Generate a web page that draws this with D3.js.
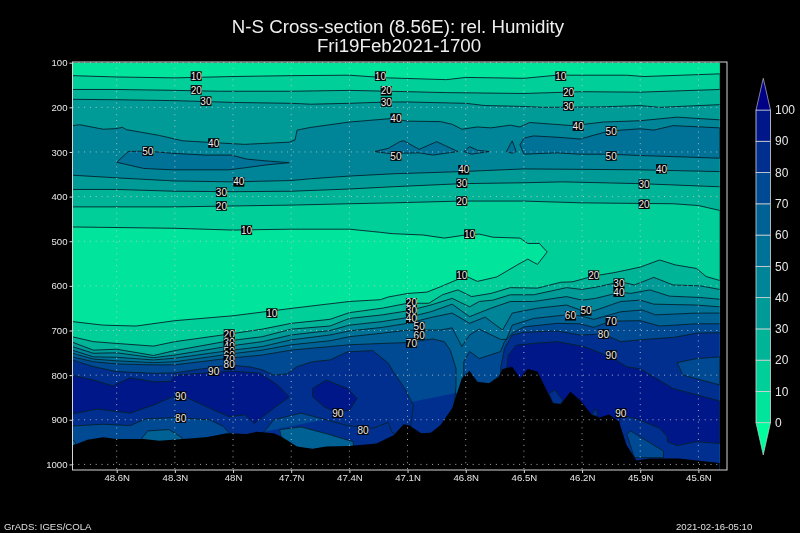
<!DOCTYPE html>
<html>
<head>
<meta charset="utf-8">
<script src="https://cdn.jsdelivr.net/npm/d3@7"></script>
<style>
  html, body { margin: 0; padding: 0; background: #000; }
  svg { display: block; opacity: 0.999; }
  text { font-family: "Liberation Sans", Arial, sans-serif; }
</style>
</head>
<body>
<svg id="chart" width="800" height="533"></svg>
<script>
const latTicks = [48.6, 48.3, 48, 47.7, 47.4, 47.1, 46.8, 46.5, 46.2, 45.9, 45.6];
const pressureTicks = [100, 200, 300, 400, 500, 600, 700, 800, 900, 1000];
const levelTicks = [0, 10, 20, 30, 40, 50, 60, 70, 80, 90, 100];
const bandColors = ["#00e69c", "#00d09a", "#00b698", "#009c98", "#008598", "#007298", "#006296", "#004a94", "#003090", "#00188a"];
const arrowColors = ["#00ff9f", "#000088"];
const leftLat = 48.83, rightLat = 45.49, topP = 100, floorP = 1013;

// contours as [lat, hPa]
const top10 = [[48.83,129],[48.6,132],[48.3,134],[48,131],[47.7,129],[47.4,128],[47.2,134],[46.9,138],[46.8,133],[46.5,135],[46.33,128],[45.97,128],[45.88,131],[45.49,125]];
const top20 = [[48.83,160],[48.6,160],[48.3,162],[48.07,164],[47.7,164],[47.4,162],[47.1,165],[46.9,167],[46.5,169],[46.2,165],[45.9,166],[45.49,160]];
const top30 = [[48.83,182],[48.6,183],[48.3,185],[48,189],[47.7,191],[47.6,193],[47.4,191],[47.2,188],[47.1,188],[46.8,191],[46.7,196],[46.5,198],[46.4,200],[46.1,199],[45.9,196],[45.8,200],[45.49,194]];
const top40 = [[48.83,241],[48.79,239],[48.67,249],[48.61,248],[48.57,245],[48.55,250],[48.38,263],[48.26,275],[48.1,279],[47.94,283],[47.71,278],[47.68,273],[47.67,251],[47.6,245],[47.4,233],[47.18,225],[47.1,231],[46.93,232],[46.87,238],[46.82,249],[46.74,244],[46.67,246],[46.57,240],[46.52,244],[46.47,234],[46.25,241],[46.09,233],[45.9,230],[45.71,222],[45.49,228]];
const mid40 = [[48.83,352],[48.6,358],[48.3,365],[48,367],[47.7,364],[47.6,360],[47.4,354],[47.18,349],[46.82,344],[46.5,338],[46.2,339],[45.9,340],[45.49,344]];
const mid30 = [[48.83,384],[48.6,384],[48.3,388],[48,389],[47.7,388],[47.4,383],[47.18,378],[46.82,371],[46.5,369],[46.3,367],[45.9,371],[45.49,378]];
const mid20 = [[48.83,423],[48.3,423],[48,421],[47.7,419],[47.4,416],[47.18,414],[46.82,410],[46.5,410],[46.2,414],[45.73,416],[45.6,420],[45.49,431]];
const tongue10 = [[48.83,468],[48.3,471],[48,475],[47.71,473],[47.4,473],[47.24,480],[47.18,483],[47.02,486],[46.91,493],[46.8,486],[46.73,484],[46.66,491],[46.52,493],[46.48,505],[46.42,505],[46.38,524],[46.43,552],[46.48,540],[46.53,552],[46.64,580],[46.74,590],[46.8,578],[46.93,602],[47,614],[47.1,617],[47.2,625],[47.24,631],[47.4,635],[47.69,650],[48,667],[48.3,678],[48.5,690],[48.67,688],[48.83,680]];
const low20 = [[48.83,714],[48.72,725],[48.6,729],[48.41,735],[48.3,725],[48.02,708],[47.85,697],[47.7,684],[47.5,675],[47.4,660],[47.23,650],[47.1,639],[46.99,639],[46.92,620],[46.84,609],[46.77,624],[46.67,617],[46.57,604],[46.43,605],[46.31,592],[46.25,591],[46.14,578],[46.03,570],[45.9,558],[45.8,542],[45.72,553],[45.61,561],[45.56,579],[45.49,588]];
const low30 = [[48.83,726],[48.72,744],[48.6,742],[48.41,756],[48.3,745],[48.02,723],[47.85,714],[47.7,697],[47.5,690],[47.4,673],[47.23,665],[47.1,656],[46.98,643],[46.87,628],[46.78,647],[46.73,635],[46.66,632],[46.57,620],[46.45,620],[46.28,604],[46.2,608],[46.13,603],[46,591],[45.93,598],[45.83,581],[45.73,598],[45.59,600],[45.49,608]];
const low40 = [[48.83,736],[48.72,751],[48.6,750],[48.41,761],[48.3,755],[48.02,735],[47.85,725],[47.7,710],[47.5,700],[47.4,688],[47.23,680],[47.1,671],[46.98,658],[46.87,641],[46.78,669],[46.67,650],[46.57,635],[46.45,635],[46.28,624],[46.2,632],[46.13,628],[46,614],[45.95,617],[45.85,609],[45.75,623],[45.59,626],[45.49,630]];
const low50 = [[48.83,744],[48.72,759],[48.6,760],[48.41,766],[48.3,762],[48.02,745],[47.85,736],[47.7,721],[47.5,710],[47.4,701],[47.23,693],[47.1,684],[46.97,670],[46.87,661],[46.78,684],[46.7,670],[46.61,699],[46.56,661],[46.43,650],[46.28,643],[46.21,654],[46.14,656],[46,635],[45.9,632],[45.83,641],[45.61,643],[45.49,647]];
const low60 = [[48.83,751],[48.72,764],[48.6,768],[48.41,772],[48.3,770],[48.02,753],[47.85,744],[47.7,732],[47.5,723],[47.4,714],[47.23,706],[47.1,699],[46.93,699],[46.87,694],[46.82,736],[46.78,710],[46.73,697],[46.62,720],[46.59,720],[46.56,688],[46.45,673],[46.28,665],[46.21,667],[46.14,675],[46,658],[45.89,654],[45.82,665],[45.61,661],[45.49,661]];
const low70 = [[48.83,759],[48.72,770],[48.6,775],[48.41,777],[48.3,777],[48.02,762],[47.85,755],[47.7,744],[47.5,736],[47.4,732],[47.23,729],[47.1,727],[46.97,719],[46.91,725],[46.88,744],[46.85,785],[46.85,825],[46.86,870],[46.81,870],[46.81,796],[46.81,770],[46.78,747],[46.73,763],[46.62,747],[46.6,725],[46.56,706],[46.5,692],[46.33,684],[46.21,685],[46.14,693],[46.05,679],[45.9,678],[45.8,690],[45.61,685],[45.49,685]];
const west80 = [[48.83,766],[48.72,781],[48.6,792],[48.41,796],[48.3,795],[48.02,777],[47.91,782],[47.85,788],[47.79,800],[47.72,797],[47.67,781],[47.59,770],[47.5,766],[47.41,748],[47.28,745],[47.2,773],[47.17,795],[47.12,826],[47.07,867],[47.08,904],[47.1,945],[47.18,928],[47.2,906],[47.28,919],[47.41,913],[47.52,900],[47.65,885],[47.79,900],[47.84,927],[47.92,945],[48.02,929],[48.05,915],[48.12,900],[48.3,895],[48.45,898],[48.53,913],[48.67,910],[48.83,914]];
const east80 = [[46.62,820],[46.62,784],[46.6,740],[46.56,710],[46.5,704],[46.33,701],[46.21,710],[46.09,708],[46,725],[45.9,721],[45.72,715],[45.61,706],[45.49,705]];
const west90 = [[48.83,800],[48.72,811],[48.62,824],[48.53,806],[48.41,815],[48.32,814],[48.3,800],[48.1,794],[48,791],[47.86,796],[47.77,822],[47.71,849],[47.79,874],[47.89,908],[47.94,889],[48.02,893],[48.08,882],[48.24,850],[48.31,848],[48.41,867],[48.53,885],[48.7,876],[48.83,887]];
const pocket90 = [[47.52,811],[47.59,830],[47.59,848],[47.53,871],[47.47,883],[47.4,879],[47.36,852],[47.41,830]];
const east90 = [[46.59,960],[46.59,830],[46.59,789],[46.58,755],[46.54,733],[46.45,729],[46.33,725],[46.19,736],[46.06,758],[45.97,781],[45.9,786],[45.73,830],[45.49,858],[45.49,953],[45.61,949],[45.71,958],[45.76,949],[45.76,938],[45.8,919],[45.92,898],[46,889],[46.03,960]];

// closed patches, painted with the band they belong to
const patches50 = [
  [[48.6,323],[48.54,299],[48.45,298],[48.31,303],[48.14,307],[48.01,307],[47.93,316],[47.83,320],[47.71,324],[47.83,329],[47.93,335],[48.02,340],[48.31,340],[48.46,337]],
  [[47.27,299],[47.2,292],[47.14,277],[47.12,275],[47.04,294],[46.95,277],[46.84,299],[46.97,307],[47.04,302],[47.16,303],[47.17,305]],
  [[46.81,299],[46.78,288],[46.74,296],[46.68,299],[46.77,305]],
  [[46.59,299],[46.56,275],[46.54,299],[46.56,303]],
  [[46.52,284],[46.5,269],[46.45,264],[46.33,267],[46.21,271],[46.06,253],[45.9,248],[45.83,251],[45.73,241],[45.49,246],[45.49,314],[45.68,311],[45.9,308],[46.06,305],[46.21,305],[46.33,302],[46.5,305]]
];
const holes80 = [
  [[46.37,841],[46.34,833],[46.3,856],[46.31,865],[46.35,863]],
  [[46.13,875],[46.15,889],[46.12,893],[46.12,885]]
];
const holes70 = [
  [[45.49,759],[45.61,763],[45.71,772],[45.68,800],[45.49,822]],
  [[45.97,932],[45.95,925],[45.78,970],[45.78,985],[45.93,985]]
];
const holes60 = [
  [[48.47,941],[48.44,925],[48.33,922],[48.26,941],[48.3,960],[48.47,960]],
  [[47.76,922],[47.65,916],[47.52,931],[47.38,949],[47.38,960],[47.6,975],[47.74,960]],
  [[48.83,944],[48.81,952],[48.83,965]]
];
const terrain = [[48.83,958],[48.75,945],[48.67,939],[48.6,943],[48.46,943],[48.38,947],[48.26,943],[48.14,939],[48.03,930],[47.93,932],[47.88,927],[47.79,930],[47.75,938],[47.67,960],[47.59,965],[47.52,960],[47.4,959],[47.26,953],[47.17,934],[47.12,910],[47.09,913],[47.03,930],[46.98,929],[46.93,912],[46.87,874],[46.82,807],[46.78,790],[46.74,815],[46.68,818],[46.63,803],[46.61,786],[46.56,781],[46.52,807],[46.48,786],[46.43,792],[46.35,863],[46.31,865],[46.26,837],[46.21,856],[46.15,889],[46.11,895],[46.06,888],[46.01,904],[45.97,957],[45.92,991],[45.85,987],[45.7,987],[45.49,997]];

const labelTexts = ["10","10","10","20","20","20","30","30","30","40","40","40","50","50","50","50","40","40","40","30","30","30","20","20","20","10","10","10","20","30","40","50","60","70","80","90","90","10","20","30","40","50","60","70","20","30","40","50","60","70","80","90","90","80","90","80"];
const labelLats = [48.19,47.24,46.31,48.19,47.21,46.27,48.14,47.21,46.27,48.1,47.16,46.22,48.44,47.16,46.05,46.05,47.97,46.81,45.79,48.06,46.82,45.88,48.06,46.82,45.88,47.93,46.78,46.82,46.14,46.01,46.01,46.18,46.26,46.05,46.09,46.05,46,47.8,47.08,47.08,47.08,47.04,47.04,47.08,48.02,48.02,48.02,48.02,48.02,48.02,48.02,48.1,48.27,48.27,47.46,47.33];
const labelPress = [130,130,130,161,163,166,186,188,197,280,224,242,298,309,253,309,367,340,338,390,370,372,421,410,417,475,484,576,576,594,614,656,667,679,708,755,885,661,638,656,673,691,710,728,708,726,736,746,755,764,777,791,847,896,885,923];

const svg = d3.select("#chart");
const x = d3.scaleLinear().domain([48.6, 45.6]).range([116.7, 698.4]);
const y = d3.scaleLinear().domain([100, 1000]).range([62.7, 464.4]);
const frame = { left: 72.5, right: 727, top: 62, bottom: 470 };

const line = d3.line().x(d => x(d[0])).y(d => y(d[1]));
const closed = d3.line().x(d => x(d[0])).y(d => y(d[1])).curve(d3.curveLinearClosed);

const toBottom = c => c.concat([[rightLat, floorP], [leftLat, floorP]]);
const toTop = c => c.concat([[rightLat, topP], [leftLat, topP]]);
const between = (a, b) => a.concat(b.slice().reverse());

svg.append("defs").append("clipPath").attr("id", "dataClip")
  .append("rect")
  .attr("x", x(leftLat)).attr("y", y(topP))
  .attr("width", x(rightLat) - x(leftLat)).attr("height", frame.bottom - y(topP));

const plot = svg.append("g").attr("clip-path", "url(#dataClip)");

plot.append("rect")
  .attr("x", x(leftLat)).attr("y", y(topP))
  .attr("width", x(rightLat) - x(leftLat)).attr("height", frame.bottom - y(topP))
  .attr("fill", bandColors[1]);

// filled bands, lowest level first
const fills = [
  [toTop(top10), 0], [tongue10, 0],
  [between(top20, mid20), 2], [toBottom(low20), 2],
  [between(top30, mid30), 3], [toBottom(low30), 3],
  [between(top40, mid40), 4], [toBottom(low40), 4],
  [toBottom(low50), 5],
  [toBottom(low60), 6],
  [toBottom(low70), 7],
  [west80, 8], [toBottom(east80), 8],
  [west90, 9], [pocket90, 9], [east90, 9]
];
patches50.forEach(p => fills.push([p, 5]));
holes60.forEach(p => fills.push([p, 6]));
holes70.forEach(p => fills.push([p, 7]));
holes80.forEach(p => fills.push([p, 8]));

plot.selectAll("path.band").data(fills).join("path")
  .attr("class", "band")
  .attr("d", d => closed(d[0]))
  .attr("fill", d => bandColors[d[1]]);

// contour lines
const openLines = [top10, top20, top30, top40, mid40, mid30, mid20, low20, low30, low40, low50, low60, low70, east80, west90];
const loopLines = [tongue10, west80, pocket90, east90].concat(patches50, holes60, holes70, holes80);
plot.selectAll("path.contour").data(openLines).join("path")
  .attr("class", "contour")
  .attr("d", line).attr("fill", "none")
  .attr("stroke", "#04222e").attr("stroke-width", 0.9);
plot.selectAll("path.loop").data(loopLines).join("path")
  .attr("class", "loop")
  .attr("d", closed).attr("fill", "none")
  .attr("stroke", "#04222e").attr("stroke-width", 0.9);

// ground
plot.append("path")
  .attr("d", closed(toBottom(terrain)))
  .attr("fill", "#000");

// grid
const grid = svg.append("g").attr("stroke", "#cfcfcf").attr("stroke-width", 1).attr("stroke-dasharray", "1 4.8").attr("opacity", 0.85);
grid.selectAll("line.v").data(latTicks).join("line")
  .attr("class", "v")
  .attr("x1", d => x(d)).attr("x2", d => x(d))
  .attr("y1", frame.top).attr("y2", frame.bottom);
grid.selectAll("line.h").data(pressureTicks).join("line")
  .attr("class", "h")
  .attr("x1", frame.left).attr("x2", 722)
  .attr("y1", d => y(d)).attr("y2", d => y(d));

// contour labels
const labels = svg.append("g").selectAll("g").data(labelTexts).join("g")
  .attr("transform", (d, i) => `translate(${x(labelLats[i])},${y(labelPress[i])})`);
labels.append("rect").attr("x", -5.5).attr("y", -4.8).attr("width", 11).attr("height", 9.6).attr("fill", "#000");
labels.append("text").attr("text-anchor", "middle").attr("y", 3.6)
  .attr("font-size", 10).attr("fill", "#eee").text(d => d);

// frame and axes
svg.append("rect")
  .attr("x", frame.left).attr("y", frame.top)
  .attr("width", frame.right - frame.left).attr("height", frame.bottom - frame.top)
  .attr("fill", "none").attr("stroke", "#d8d8d8").attr("stroke-width", 1);

const xAxis = d3.axisBottom(x).tickValues(latTicks).tickFormat(d => d + "N").tickSize(3).tickPadding(1);
const yAxis = d3.axisLeft(y).tickValues(pressureTicks).tickFormat(d3.format("d")).tickSize(3).tickPadding(2);
const gx = svg.append("g").attr("transform", `translate(0,${frame.bottom})`).call(xAxis);
const gy = svg.append("g").attr("transform", `translate(${frame.left},0)`).call(yAxis);
[gx, gy].forEach(g => {
  g.select(".domain").remove();
  g.selectAll("line").attr("stroke", "#d8d8d8");
  g.selectAll("text").attr("fill", "#e8e8e8").attr("font-family", "Liberation Sans").attr("font-size", 9.6);
});

// colour bar
const barX = 756, barW = 14.5;
const level = d3.scaleLinear().domain([0, 100]).range([422.7, 110]);
const bar = svg.append("g");
bar.selectAll("rect").data(bandColors).join("rect")
  .attr("x", barX).attr("width", barW)
  .attr("y", (d, i) => level(levelTicks[i + 1]))
  .attr("height", (d, i) => level(levelTicks[i]) - level(levelTicks[i + 1]))
  .attr("fill", d => d).attr("stroke", "#d8d8d8").attr("stroke-width", 0.8);
bar.append("path")
  .attr("d", `M${barX},${level(0)}L${barX + barW / 2},455L${barX + barW},${level(0)}Z`)
  .attr("fill", arrowColors[0]).attr("stroke", "#d8d8d8").attr("stroke-width", 0.6);
bar.append("path")
  .attr("d", `M${barX},${level(100)}L${barX + barW / 2},78.3L${barX + barW},${level(100)}Z`)
  .attr("fill", arrowColors[1]).attr("stroke", "#d8d8d8").attr("stroke-width", 0.6);
bar.selectAll("text").data(levelTicks).join("text")
  .attr("x", 775).attr("y", d => level(d) + 4.2)
  .attr("font-size", 12).attr("fill", "#e8e8e8").text(d => d);

// titles
svg.append("text").attr("x", 398).attr("y", 33.3).attr("text-anchor", "middle")
  .attr("font-size", 18.7).attr("fill", "#f0f0f0").text("N-S Cross-section (8.56E): rel. Humidity");
svg.append("text").attr("x", 399).attr("y", 51.7).attr("text-anchor", "middle")
  .attr("font-size", 18.7).attr("fill", "#f0f0f0").text("Fri19Feb2021-1700");
svg.append("text").attr("x", 4).attr("y", 529.5)
  .attr("font-size", 9.6).attr("fill", "#e0e0e0").text("GrADS: IGES/COLA");
svg.append("text").attr("x", 676).attr("y", 529.5)
  .attr("font-size", 9.6).attr("fill", "#e0e0e0").text("2021-02-16-05:10");
</script>
</body>
</html>
